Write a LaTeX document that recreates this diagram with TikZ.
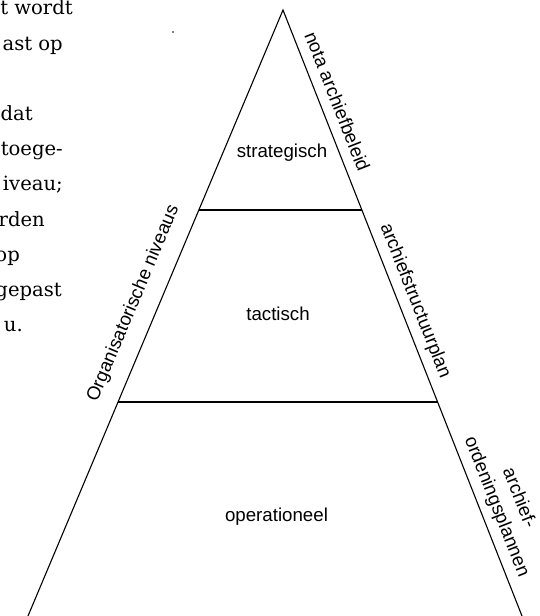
\documentclass[tikz,border=0pt]{standalone}
\usepackage{fontspec}
\setmainfont{DejaVu Serif}
\newfontfamily\labelsans{Liberation Sans}
\usetikzlibrary{calc}
\begin{document}
\begin{tikzpicture}[x=1pt,y=1pt,
  edge/.style={line width=1.1pt},
  levelline/.style={line width=1.4pt},
  levellabel/.style={font=\labelsans\fontsize{18.7}{22}\selectfont, inner sep=0pt},
  sidelabel/.style={font=\labelsans\fontsize{18.7}{24}\selectfont, inner sep=0pt, align=center},
  bodytext/.style={font=\fontsize{19.6}{35}\selectfont, anchor=base east, inner sep=0pt}]
\useasboundingbox (0,0) rectangle (540,616);

% body text running beside the figure (right ends of the lines)
\node[bodytext] (t1) at (73,601)   {t wordt};
\node[bodytext] (t2) at (63,565.8) {ast op};
\node[bodytext] (t3) at (33,495.4) {dat};
\node[bodytext] (t4) at (63,460.2) {toege-};
\node[bodytext] (t5) at (63,425)   {iveau;};
\node[bodytext] (t6) at (45,389.8) {rden};
\node[bodytext] (t7) at (20,354.6) {op};
\node[bodytext] (t8) at (62,319.4) {gepast};
\node[bodytext] (t9) at (23,284.2) {u.};
\fill (173,584) circle (0.9pt);

% pyramid
\coordinate (A)  at (283,606);
\coordinate (BL) at (28,0);
\coordinate (BR) at (522,0);
\coordinate (L1) at ($(A)!0.33003!(BL)$);
\coordinate (R1) at ($(A)!0.33003!(BR)$);
\coordinate (L2) at ($(A)!0.64686!(BL)$);
\coordinate (R2) at ($(A)!0.64686!(BR)$);

\draw[edge] (BL) -- (A) -- (BR);
\draw[levelline] (L1) -- (R1);
\draw[levelline] (L2) -- (R2);

% levels
\node[levellabel] (strat) at (282,463) {strategisch};
\node[levellabel] (tact)  at (278,302) {tactisch};
\node[levellabel] (oper)  at (276.5,99) {operationeel};

% labels along the sides
\node[sidelabel, rotate=67.2]  (org)  at (133.5,312.5) {Organisatorische niveaus};
\node[sidelabel, rotate=-68.5] (nota) at (337.5,514.5) {nota archiefbeleid};
\node[sidelabel, rotate=-68.5] (asp)  at (415,315)     {archiefstructuurplan};
\node[sidelabel, rotate=-68.5] (aop)  at (507.5,113.5) {archief-\\ordeningsplannen};
\end{tikzpicture}
\end{document}
